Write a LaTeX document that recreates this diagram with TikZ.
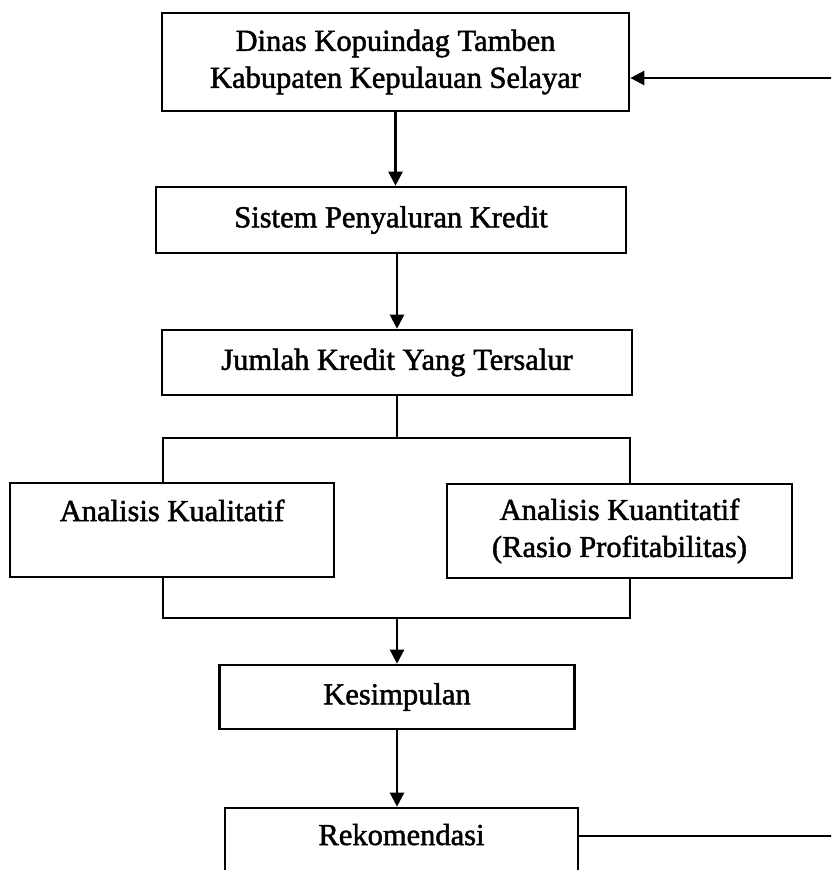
\documentclass[tikz,border=0pt]{standalone}
\usepackage{fontspec}
\setmainfont{Liberation Serif}
\newfontfamily\boxfont{Liberation Serif}[FakeBold=1.6]
\usetikzlibrary{arrows.meta}

\begin{document}
\begin{tikzpicture}[
    x=1pt, y=-1pt,
    box/.style={draw, line width=2.6pt, inner sep=0pt, align=center,
        font=\boxfont\fontsize{30.5}{37}\selectfont},
    flow/.style={line width=2.3pt},
    arr/.style={flow, -{Triangle[length=14pt,width=14pt]}}
]
    \useasboundingbox (0,0) rectangle (831,870);
    \clip (0,0) rectangle (831,870);

    \node[box, minimum width=467pt, minimum height=98pt] (dinas) at (395.5,62)
        {Dinas Kopuindag Tamben\\Kabupaten Kepulauan Selayar};
    \node[box, minimum width=470pt, minimum height=66pt] (sistem) at (391,220)
        {Sistem Penyaluran Kredit};
    \node[box, minimum width=470pt, minimum height=65pt] (jumlah) at (397,362.5)
        {Jumlah Kredit Yang Tersalur};

    \node[box, minimum width=324pt, text height=38pt, text depth=56pt] (kual) at (172,530)
        {Analisis Kualitatif};
    \node[box, minimum width=345pt, minimum height=94pt] (kuan) at (619.5,531)
        {Analisis Kuantitatif\\(Rasio Profitabilitas)};

    \node[box, minimum width=355pt, minimum height=64pt] (simpul) at (397,697)
        {Kesimpulan};
    \node[box, minimum width=353pt, text height=37pt, text depth=35pt] (rekom) at (401.5,844)
        {Rekomendasi};

    % split and join
    \coordinate (topL) at (163,438);
    \coordinate (topR) at (630,438);
    \coordinate (botL) at (163,618);
    \coordinate (botR) at (630,618);

    % feedback loop, its right side lies past the edge
    \coordinate (edgeTop) at (845,78);
    \coordinate (edgeBot) at (845,836);

    \draw[arr] (dinas.south) -- (dinas.south |- sistem.north);
    \draw[arr] (sistem.south -| jumlah.north) -- (jumlah.north);
    \draw[flow] (jumlah.south) -- (jumlah.south |- topL);
    \draw[flow] (kual.north -| topL) -- (topL) -- (topR) -- (kuan.north -| topR);
    \draw[flow] (kual.south -| botL) -- (botL) -- (botR) -- (kuan.south -| botR);
    \draw[arr] (simpul.north |- botL) -- (simpul.north);
    \draw[arr] (simpul.south) -- (simpul.south |- rekom.north);
    \draw[arr] (rekom.east |- edgeBot) -- (edgeBot) -- (edgeTop) -- (dinas.east |- edgeTop);

\end{tikzpicture}
\end{document}
